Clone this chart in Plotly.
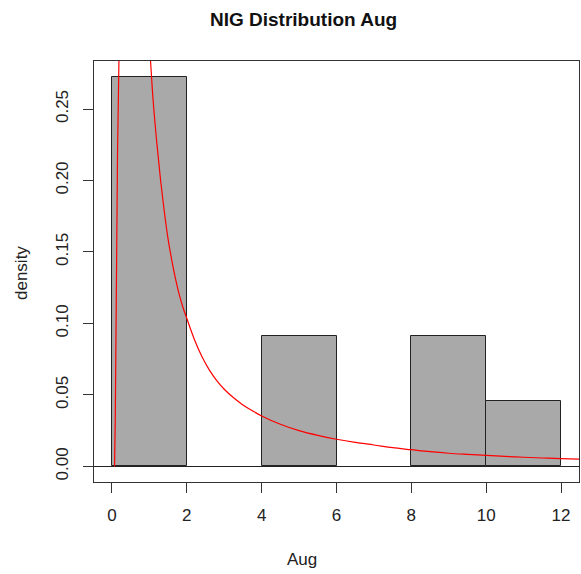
import plotly.graph_objects as go

# Histogram of August values (bin edges and counts per bin)
bin_edges = [0, 2, 4, 6, 8, 10, 12]
counts = [6, 0, 2, 0, 2, 1]

# Fitted NIG density, left rising branch and right decaying branch
nig_left_x = [0.069, 0.088, 0.149, 0.187, 0.19]
nig_left_y = [0.0, 0.032, 0.22, 0.2836, 0.29]
nig_right_x = [1.01, 1.03, 1.1, 1.2, 1.3, 1.4, 1.5, 1.6, 1.7, 1.8, 1.9, 2.0,
               2.2, 2.4, 2.6, 2.8, 3.0, 3.25, 3.5, 3.75, 4.0, 4.5, 5.0, 5.5, 6.0,
               6.5, 7.0, 7.5, 8.0, 8.5, 9.0, 9.5, 10.0, 10.5, 11.0, 11.5, 12.0, 12.48]
nig_right_y = [0.29, 0.2836, 0.256, 0.226, 0.200, 0.178, 0.159, 0.144, 0.131, 0.120, 0.111, 0.1035,
               0.0890, 0.0770, 0.0675, 0.0600, 0.0540, 0.0480, 0.0430, 0.0390, 0.0353, 0.0295,
               0.0250, 0.0217, 0.0190, 0.0168, 0.0150, 0.0131, 0.0117, 0.0103, 0.0092, 0.0084,
               0.0077, 0.0070, 0.0064, 0.0059, 0.0055, 0.0051]

x_ticks = [0, 2, 4, 6, 8, 10, 12]
y_ticks = [0.0, 0.05, 0.10, 0.15, 0.20, 0.25]

n = sum(counts)
widths = [b - a for a, b in zip(bin_edges[:-1], bin_edges[1:])]
centers = [(a + b) / 2 for a, b in zip(bin_edges[:-1], bin_edges[1:])]
density = [c / (n * w) for c, w in zip(counts, widths)]
# empty bins get no outline so the baseline stays a single line
outline = [1 if d > 0 else 0 for d in density]

FONT = "Liberation Sans, Arial, sans-serif"

fig = go.Figure()
fig.add_trace(go.Bar(
    x=centers, y=density, width=widths,
    marker=dict(color="#A9A9A9", line=dict(color="#222222", width=outline)),
    showlegend=False, hoverinfo="skip",
))
fig.add_trace(go.Scatter(
    x=nig_left_x, y=nig_left_y, mode="lines",
    line=dict(color="#FF0000", width=1.2), showlegend=False,
))
fig.add_trace(go.Scatter(
    x=nig_right_x, y=nig_right_y, mode="lines",
    line=dict(color="#FF0000", width=1.2, shape="spline", smoothing=1.0),
    showlegend=False,
))

fig.update_layout(
    width=581, height=574,
    margin=dict(l=94, r=2, t=61, b=92),
    paper_bgcolor="white", plot_bgcolor="white",
    font=dict(family=FONT, size=17, color="#222222"),
    bargap=0,
    xaxis=dict(
        range=[-0.48, 12.48], tickvals=x_ticks, ticktext=[str(v) for v in x_ticks],
        showgrid=False, zeroline=False,
        showline=True, mirror=True, linecolor="#333333", linewidth=1,
        ticks="outside", ticklen=10, tickcolor="#333333", tickwidth=1,
        ticklabelstandoff=8,
    ),
    yaxis=dict(
        range=[-0.0109, 0.2836], tickvals=y_ticks,
        ticktext=[f"{v:.2f}" for v in y_ticks], tickangle=-90,
        showgrid=False, zeroline=True, zerolinecolor="#222222", zerolinewidth=1,
        showline=True, mirror=True, linecolor="#333333", linewidth=1,
        ticks="outside", ticklen=10, tickcolor="#333333", tickwidth=1,
        ticklabelstandoff=8,
    ),
    annotations=[
        dict(text="<b>NIG Distribution Aug</b>", xref="paper", yref="paper",
             x=(303 - 94) / 485, y=1 + (61 - 19) / 421, xanchor="center", yanchor="middle",
             showarrow=False, font=dict(size=19, color="#111111")),
        dict(text="Aug", xref="paper", yref="paper",
             x=(302 - 94) / 485, y=-(559 - 482) / 421, xanchor="center", yanchor="middle",
             showarrow=False, font=dict(size=17)),
        dict(text="density", xref="paper", yref="paper", textangle=-90,
             x=(21 - 94) / 485, y=1 - (273 - 61) / 421, xanchor="center", yanchor="middle",
             showarrow=False, font=dict(size=17)),
    ],
)

fig.write_html("out.html")
